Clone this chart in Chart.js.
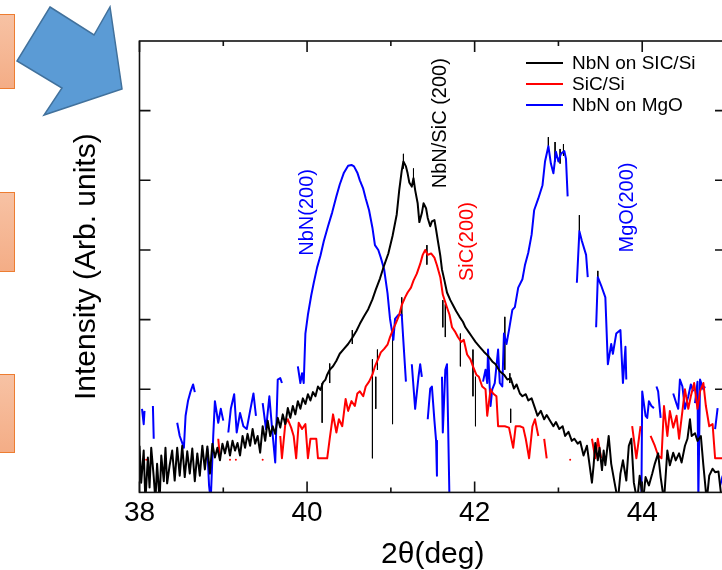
<!DOCTYPE html>
<html>
<head>
<meta charset="utf-8">
<script src="https://cdn.jsdelivr.net/npm/chart.js@4.4.0/dist/chart.umd.min.js"></script>
<style>
  html, body { margin: 0; padding: 0; background: #fff; }
  #wrap { position: relative; width: 722px; height: 570px; overflow: hidden; }
  #c { position: absolute; left: 0; top: 0; }
  .box { position: absolute; left: -20px; width: 33px; background: linear-gradient(#f7c2a4, #f4ad86); border: 1.5px solid #ed7d31; }
  #arrow { position: absolute; left: 0; top: 0; }
</style>
</head>
<body>
<div id="wrap">
  <canvas id="c" width="740" height="570"></canvas>
  <div class="box" style="top:14px;height:73px"></div>
  <div class="box" style="top:192px;height:78px"></div>
  <div class="box" style="top:374px;height:77px"></div>
  <svg id="arrow" width="130" height="120">
    <polygon points="50,7 94,35 110,7 122,89 44,115 62,88 17,61" fill="#5b9bd5" stroke="#41719c" stroke-width="1.5"/>
  </svg>
</div>
<script>
// dados: [2theta, log intensidade] (null = lacuna)
const nbnOnSic = [
  [38.00,-0.81],[38.02,-1.34],[38.05,-0.88],[38.07,-1.6],[38.10,-0.98],[38.12,-1.41],[38.14,-0.84],[38.17,-1.26],
  [38.19,-1.6],[38.21,-1.07],[38.24,-1.6],[38.26,-0.95],[38.29,-1.32],[38.31,-0.84],[38.33,-1.35],[38.36,-1.09],
  [38.39,-0.88],[38.42,-1.31],[38.45,-0.84],[38.48,-1.24],[38.51,-0.81],[38.54,-1.26],[38.57,-0.89],[38.60,-1.21],
  [38.63,-0.85],[38.66,-1.32],[38.69,-0.92],[38.72,-1.24],[38.75,-0.81],[38.78,-1.15],[38.81,-0.82],[38.84,-1.21],
  [38.87,-0.78],[38.90,-0.98],[38.93,-0.84],[38.96,-1.02],[38.99,-0.78],[39.02,-0.92],[39.05,-0.75],[39.08,-0.95],
  [39.11,-0.74],[39.14,-0.88],[39.17,-0.77],[39.20,-0.95],[39.23,-0.67],[39.26,-0.84],[39.29,-0.64],[39.32,-0.81],
  [39.35,-0.57],[39.38,-0.78],[39.41,-0.67],[39.44,-0.91],[39.47,-0.53],[39.50,-0.74],[39.53,-0.45],[39.56,-0.67],
  [39.59,-0.53],[39.62,-0.64],[39.65,-0.41],[39.68,-0.55],[39.71,-0.36],[39.74,-0.50],[39.77,-0.27],[39.80,-0.41],
  [39.83,-0.24],[39.86,-0.36],[39.89,-0.17],[39.92,-0.28],[39.95,-0.13],[39.98,-0.21],[40.01,-0.07],[40.04,-0.16],
  [40.07,-0.04],[40.10,-0.10],[40.13,0.04],[40.16,-0.01],[40.19,0.10],[40.22,0.14],[40.24,0.21],[40.27,0.28],
  [40.31,0.33],[40.35,0.41],[40.39,0.51],[40.44,0.58],[40.49,0.65],[40.54,0.74],[40.59,0.84],[40.63,0.94],
  [40.68,1.05],[40.73,1.15],[40.78,1.29],[40.82,1.43],[40.87,1.59],[40.92,1.78],[40.97,1.95],[41.02,2.20],
  [41.07,2.51],[41.10,2.86],[41.13,3.14],[41.15,3.27],[41.18,3.20],[41.20,3.10],[41.22,2.97],[41.25,2.91],
  [41.27,3.03],[41.29,2.86],[41.32,2.67],[41.34,2.40],[41.37,2.53],[41.39,2.67],[41.42,2.60],[41.44,2.46],
  [41.47,2.34],[41.49,2.41],[41.52,2.43],[41.54,2.29],[41.56,2.14],[41.59,1.92],[41.61,1.72],[41.64,1.56],
  [41.67,1.39],[41.71,1.28],[41.75,1.19],[41.78,1.12],[41.82,1.04],[41.86,0.97],[41.89,0.89],[41.93,0.82],
  [41.97,0.75],[42.01,0.68],[42.06,0.61],[42.11,0.54],[42.16,0.48],[42.21,0.40],[42.25,0.36],[42.30,0.26],
  [42.35,0.21],[42.39,0.14],[42.43,0.16],[42.47,0.01],[42.50,0.07],[42.54,-0.06],[42.57,-0.10],[42.61,-0.07],
  [42.64,-0.16],[42.68,-0.13],[42.72,-0.27],[42.75,-0.38],[42.79,-0.31],[42.83,-0.43],[42.86,-0.37],[42.90,-0.45],
  [42.94,-0.53],[42.97,-0.47],[43.01,-0.57],[43.05,-0.53],[43.08,-0.67],[43.12,-0.61],[43.16,-0.74],[43.19,-0.71],
  [43.23,-0.78],[43.26,-0.75],[43.30,-0.95],[43.34,-0.81],[43.37,-1.07],[43.40,-1.34],[43.42,-1.09],[43.44,-0.77],
  [43.47,-1.02],[43.49,-0.84],[43.52,-1.16],[43.54,-0.88],[43.56,-1.09],[43.60,-0.67],[43.63,-1.07],[43.67,-1.34],
  [43.71,-1.6],[43.74,-1.21],[43.77,-1.02],[43.81,-1.31],[43.84,-0.81],[43.87,-0.71],[43.90,-1.34],[43.94,-1.6],
  [43.97,-1.24],[44.01,-1.6],[44.04,-1.26],[44.08,-1.38],[44.12,-1.21],[44.15,-1.07],[44.19,-0.92],[44.22,-1.26],
  [44.26,-1.6],[44.30,-0.88],[44.33,-1.09],[44.37,-0.91],[44.40,-1.02],[44.44,-0.92],[44.47,-1.05],[44.51,-0.81],
  [44.54,-0.71],[44.57,-0.43],[44.59,-0.67],[44.63,-0.63],[44.66,-0.74],[44.70,-0.67],[44.73,-1.09],[44.77,-1.6],
  [44.80,-1.24],[44.84,-1.14],[44.87,-1.19],[44.91,-1.18],[44.95,-1.6]
];

const sicSi = [
  [38.08,-1.01],[38.09,null],[38.94,-0.71],[38.96,-0.99],[38.97,null],[39.08,-1.01],[39.10,null],[39.15,-1.01],
  [39.17,null],[39.47,-1.01],[39.50,null],[39.68,-0.67],[39.70,-0.99],[39.74,-0.50],[39.77,-0.43],[39.81,-0.55],
  [39.84,-0.67],[39.87,-0.99],[39.90,-0.48],[39.94,-0.57],[39.98,-0.50],[40.01,-0.99],[40.04,-0.71],[40.07,-0.71],
  [40.11,-0.71],[40.13,-0.99],[40.24,-0.99],[40.27,-0.71],[40.31,-0.36],[40.35,-0.62],[40.38,-0.43],[40.42,-0.53],
  [40.46,-0.14],[40.49,-0.31],[40.53,-0.17],[40.57,-0.24],[40.60,-0.06],[40.63,-0.03],[40.67,-0.10],[40.70,0.04],
  [40.74,0.11],[40.78,0.21],[40.81,0.33],[40.85,0.44],[40.88,0.53],[40.92,0.58],[40.96,0.64],[40.99,0.75],
  [41.03,0.87],[41.06,0.95],[41.10,1.07],[41.13,1.21],[41.17,1.32],[41.20,1.39],[41.24,1.46],[41.27,1.56],
  [41.31,1.66],[41.35,1.80],[41.38,1.93],[41.41,2.00],[41.44,1.93],[41.48,1.95],[41.52,1.89],[41.55,1.78],
  [41.59,1.61],[41.62,1.36],[41.66,1.21],[41.70,1.07],[41.73,0.89],[41.77,0.82],[41.80,0.75],[41.84,0.68],
  [41.87,0.71],[41.91,0.50],[41.95,0.43],[41.98,0.33],[42.02,0.21],[42.05,0.18],[42.09,0.04],[42.13,0.00],
  [42.15,-0.38],[42.19,0.00],[42.22,-0.06],[42.26,-0.10],[42.28,-0.53],[42.32,-0.53],[42.36,-0.53],[42.41,-0.55],
  [42.46,-0.84],[42.49,-0.53],[42.54,-0.53],[42.58,-0.55],[42.61,-0.71],[42.65,-0.99],[42.69,-0.53],[42.72,-0.43],
  [42.76,-0.67],[42.79,null],[42.83,-0.71],[42.86,-0.99],[42.90,null],[43.14,-1.01],[43.20,null],[43.40,-0.71],
  [43.44,-0.99],[43.47,-0.71],[43.51,-0.99],[43.60,null],[43.88,-0.53],[43.93,-0.99],[43.98,-0.53],[44.05,null],
  [44.10,-0.67],[44.15,-0.81],[44.19,-0.95],[44.23,-0.99],[44.26,-0.24],[44.30,-0.67],[44.33,-0.31],[44.37,-0.55],
  [44.41,-0.38],[44.44,-0.71],[44.48,-0.31],[44.51,0.00],[44.55,-0.28],[44.58,-0.10],[44.62,0.09],[44.66,-0.28],
  [44.69,-0.03],[44.73,0.09],[44.76,-0.24],[44.80,-0.53],[44.84,-0.50],[44.87,-0.99],[44.96,-0.99]
];

const nbnOnMgo = [
  [38.03,-0.28],[38.05,-0.50],[38.06,-0.31],[38.10,null],[38.16,-0.24],[38.17,-0.71],[38.30,null],[38.45,-0.48],
  [38.48,-0.67],[38.51,-0.77],[38.53,-0.84],[38.55,-0.38],[38.58,-0.16],[38.61,-0.03],[38.64,0.07],[38.66,-0.04],
  [38.70,null],[38.81,-0.85],[38.83,-1.38],[38.85,-1.6],[38.88,-0.67],[38.90,-0.17],[38.94,-0.48],[38.97,-0.28],
  [39.00,-0.45],[39.03,null],[39.06,-0.62],[39.09,-0.28],[39.13,-0.07],[39.16,-0.62],[39.20,-0.34],[39.24,-0.53],
  [39.28,-0.57],[39.32,-0.31],[39.36,-0.06],[39.39,-0.38],[39.43,null],[39.47,-0.20],[39.51,-0.57],[39.55,-0.10],
  [39.58,-0.53],[39.62,-1.05],[39.65,0.14],[39.68,0.16],[39.70,0.09],[39.80,null],[39.89,0.33],[39.92,0.09],
  [39.94,0.23],[39.96,0.09],[39.98,0.80],[40.01,1.07],[40.05,1.35],[40.08,1.53],[40.12,1.75],[40.16,1.92],
  [40.20,2.13],[40.25,2.34],[40.30,2.54],[40.35,2.77],[40.39,2.94],[40.44,3.11],[40.49,3.21],[40.53,3.22],
  [40.56,3.20],[40.60,3.11],[40.63,3.00],[40.67,2.88],[40.70,2.74],[40.74,2.57],[40.78,2.32],[40.81,2.07],
  [40.85,2.00],[40.88,1.89],[40.92,1.72],[40.96,1.38],[40.99,1.01],[41.03,0.71],[41.05,1.01],[41.09,1.07],
  [41.13,1.07],[41.15,0.68],[41.18,0.11],[41.21,null],[41.25,0.36],[41.29,-0.28],[41.33,0.18],[41.35,0.36],
  [41.37,0.18],[41.40,null],[41.44,-0.43],[41.47,0.01],[41.49,0.04],[41.52,-0.45],[41.54,-0.74],[41.55,-1.24],
  [41.58,null],[41.61,0.18],[41.62,-0.62],[41.65,0.28],[41.67,0.36],[41.70,-1.6],[41.90,null],[42.10,0.11],
  [42.13,0.28],[42.15,0.09],[42.16,0.57],[42.19,-0.24],[42.21,0.00],[42.24,0.09],[42.28,0.57],[42.30,0.09],
  [42.33,0.04],[42.35,0.80],[42.38,0.65],[42.41,0.85],[42.45,1.14],[42.48,1.18],[42.52,1.46],[42.57,1.58],
  [42.60,1.78],[42.64,1.96],[42.68,2.22],[42.71,2.57],[42.76,2.74],[42.81,2.93],[42.84,3.27],[42.88,3.49],
  [42.91,3.24],[42.94,3.10],[42.97,3.41],[43.00,3.27],[43.03,3.38],[43.07,3.42],[43.09,3.31],[43.11,2.77],
  [43.15,null],[43.22,1.53],[43.25,2.27],[43.28,2.13],[43.33,1.93],[43.35,1.61],[43.40,null],[43.45,0.89],
  [43.47,1.61],[43.51,1.49],[43.56,1.32],[43.59,0.36],[43.63,0.65],[43.65,0.51],[43.69,0.80],[43.74,0.85],
  [43.77,0.09],[43.80,0.61],[43.81,0.14],[43.90,null],[43.99,-1.6],[44.00,-0.03],[44.04,-0.38],[44.06,-0.41],
  [44.08,-0.17],[44.11,-0.24],[44.14,-0.27],[44.155,null],[44.17,0.04],[44.19,-0.03],[44.22,-0.41],[44.30,null],
  [44.37,-0.06],[44.41,-0.21],[44.43,-0.28],[44.45,0.14],[44.48,0.04],[44.51,-0.28],[44.55,-0.10],[44.58,0.07],
  [44.61,-0.03],[44.62,null],[44.63,-0.20],[44.66,0.11],[44.67,-1.6],[44.69,0.14],[44.73,0.00],[44.75,0.04],
  [44.80,null],[44.87,-0.57],[44.90,-0.27],[44.92,null],[44.93,-1.38],[44.96,-1.24]
];

// picos finos (x, topo, base) da curva preta
const spikes = [
  [40.18,0.09,-0.48],[40.27,0.37,0.09],[40.54,0.85,0.65],[40.78,0.43,-0.99],[40.82,0.18,-0.28],[40.84,0.57,0.28],
  [41.02,0.80,-0.50],[41.13,1.32,1.04],[41.15,3.38,3.17],[41.27,3.17,3.00],[41.43,2.07,1.79],[41.62,1.28,0.89],
  [41.65,1.22,0.75],[41.83,0.80,0.33],[41.98,0.57,-0.10],[42.01,0.18,-0.53],[42.36,1.04,0.28],[42.42,0.23,0.09],
  [42.43,-0.28,-0.48],[42.88,3.62,3.49],[42.96,3.55,3.27],[43.02,3.45,3.24],[43.06,3.52,3.35],[43.25,2.50,2.27],
  [43.47,1.70,1.61]
];

const seriesNames = ['NbN on SIC/Si', 'SiC/Si', 'NbN on MgO'];
const seriesColors = ['#000000', '#ff0000', '#0000ff'];
const xLabels = [38, 40, 42, 44];
const xMinor = [39, 41, 43];
const yTicks = [0, 1, 2, 3, 4];

// rótulos dos picos (posição em coordenadas dos dados)
const peakNames = ['NbN(200)', 'NbN/SiC (200)', 'SiC(200)', 'MgO(200)'];
const peakX = [40.01, 41.59, 41.91, 43.82];
const peakY = [2.54, 3.82, 2.12, 2.61];
const peakColors = ['#0000ff', '#000000', '#ff0000', '#0000ff'];

const FONT = "'Liberation Sans', Arial, sans-serif";
Chart.defaults.font.family = FONT;

const toXY = arr => arr.map(p => ({ x: p[0], y: p[1] }));
const spikeData = [];
spikes.forEach(s => {
    spikeData.push({ x: s[0], y: s[1] }, { x: s[0], y: s[2] }, { x: s[0], y: null });
});

// ponto isolado entre lacunas vira um pequeno ponto
function isolated(ctx) {
    const d = ctx.dataset.data, i = ctx.dataIndex;
    if (!d[i] || d[i].y === null) return 0;
    const prevGap = i === 0 || d[i - 1].y === null;
    const nextGap = i === d.length - 1 || d[i + 1].y === null;
    return prevGap && nextGap ? 1 : 0;
}

// moldura com ticks para dentro, legenda e rótulos dos picos
const framePlugin = {
    id: 'frame',
    afterDraw(chart) {
        const { ctx, chartArea: { left, top, right, bottom }, scales: { x, y } } = chart;
        ctx.save();
        ctx.strokeStyle = '#111';
        ctx.lineWidth = 1.6;
        ctx.strokeRect(left, top, right - left, bottom - top);
        ctx.beginPath();
        yTicks.forEach(v => {
            const py = y.getPixelForValue(v);
            ctx.moveTo(left, py); ctx.lineTo(left + 11, py);
            ctx.moveTo(right, py); ctx.lineTo(right - 11, py);
        });
        xLabels.forEach(v => {
            const px = x.getPixelForValue(v);
            ctx.moveTo(px, bottom); ctx.lineTo(px, bottom - 11);
            ctx.moveTo(px, top); ctx.lineTo(px, top + 11);
        });
        xMinor.forEach(v => {
            const px = x.getPixelForValue(v);
            ctx.moveTo(px, bottom); ctx.lineTo(px, bottom - 5);
            ctx.moveTo(px, top); ctx.lineTo(px, top + 5);
        });
        ctx.stroke();

        // legenda
        ctx.font = '19px ' + FONT;
        ctx.textBaseline = 'middle';
        ctx.textAlign = 'left';
        seriesNames.forEach((name, i) => {
            const ly = 63 + i * 21;
            ctx.strokeStyle = seriesColors[i];
            ctx.lineWidth = 2;
            ctx.beginPath();
            ctx.moveTo(526, ly); ctx.lineTo(563, ly);
            ctx.stroke();
            ctx.fillStyle = '#000';
            ctx.fillText(name, 572, ly + 1);
        });

        // rótulos verticais dos picos
        ctx.font = '20px ' + FONT;
        ctx.textAlign = 'center';
        peakNames.forEach((t, i) => {
            ctx.save();
            ctx.translate(x.getPixelForValue(peakX[i]), y.getPixelForValue(peakY[i]));
            ctx.rotate(-Math.PI / 2);
            ctx.fillStyle = peakColors[i];
            ctx.fillText(t, 0, 0);
            ctx.restore();
        });
        ctx.restore();
    }
};

const chart = new Chart(document.getElementById('c'), {
    type: 'line',
    data: {
        datasets: [
            { label: seriesNames[0], data: toXY(nbnOnSic), borderColor: seriesColors[0], borderWidth: 2 },
            { label: seriesNames[1], data: toXY(sicSi), borderColor: seriesColors[1], backgroundColor: seriesColors[1], borderWidth: 2, pointRadius: isolated, pointBorderWidth: 0 },
            { label: seriesNames[2], data: toXY(nbnOnMgo), borderColor: seriesColors[2], borderWidth: 2 },
            { label: 'spikes', data: spikeData, borderColor: '#000', borderWidth: 1 }
        ]
    },
    options: {
        responsive: false,
        animation: false,
        spanGaps: false,
        layout: { padding: { left: 72, top: 41, right: 14, bottom: 0 } },
        elements: { point: { radius: 0, hoverRadius: 0 }, line: { tension: 0, borderJoinStyle: 'round' } },
        plugins: { legend: { display: false }, tooltip: { enabled: false } },
        scales: {
            x: {
                type: 'linear',
                min: 38,
                max: 45,
                afterBuildTicks: s => { s.ticks = xLabels.map(v => ({ value: v })); },
                grid: { display: false, drawTicks: false },
                border: { display: false },
                ticks: { font: { size: 28 }, color: '#000', padding: 4, maxRotation: 0 },
                title: { display: true, text: '2θ(deg)', color: '#000', font: { size: 30, lineHeight: 1 }, padding: { top: 6, bottom: 0 } }
            },
            y: {
                min: -1.48,
                max: 5,
                grid: { display: false, drawTicks: false },
                border: { display: false },
                ticks: { display: false },
                title: { display: true, text: 'Intensity (Arb. units)', color: '#000', font: { size: 30, lineHeight: 1 }, padding: { top: 0, bottom: 37.5 } }
            }
        }
    },
    plugins: [framePlugin]
});
</script>
</body>
</html>
